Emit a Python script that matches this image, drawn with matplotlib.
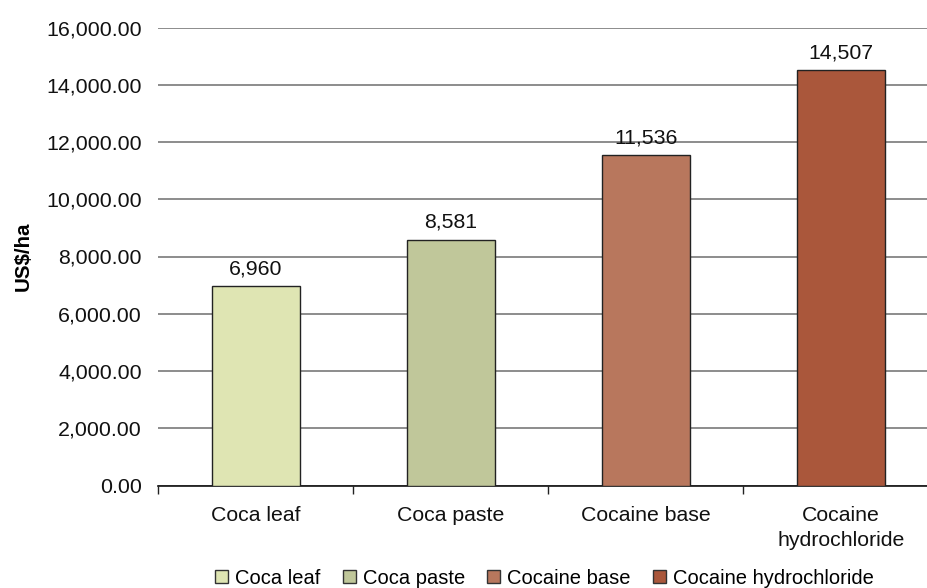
import matplotlib
matplotlib.use("Agg")
import matplotlib.pyplot as plt
from matplotlib.ticker import FuncFormatter, FixedLocator
from matplotlib.patches import Patch

categories = ["Coca leaf", "Coca paste", "Cocaine base", "Cocaine hydrochloride"]
tick_labels = ["Coca leaf", "Coca paste", "Cocaine base", "Cocaine\nhydrochloride"]
values = [6960, 8581, 11536, 14507]
colors = ["#DFE5B3", "#C0C79A", "#B8775D", "#AA573B"]
y_ticks = [0, 2000, 4000, 6000, 8000, 10000, 12000, 14000, 16000]

plt.rcParams['font.family'] = ['Liberation Sans', 'DejaVu Sans']

fig = plt.figure(figsize=(9.28, 5.88), dpi=100)
L = 158.5 / 928
R = 938.5 / 928
B = 1 - 485.5 / 588
T = 1 - 27.5 / 588
ax = fig.add_axes([L, B, R - L, T - B])

x = list(range(len(categories)))
bars = ax.bar(x, values, width=0.455, color=colors, edgecolor="#222222", linewidth=1.0, zorder=3)

for xi, v in zip(x, values):
    ax.text(xi, v + 280, f"{v:,}", ha="center", va="bottom", fontsize=15.3, color="#111111")

ax.set_xlim(-0.5, len(categories) - 0.5)
ax.set_ylim(0, 16000)
ax.set_yticks(y_ticks)
ax.yaxis.set_major_formatter(FuncFormatter(lambda v, p: f"{v:,.2f}"))
ax.tick_params(axis="y", length=0, pad=12, labelsize=15.4, labelcolor="#111111")
ax.grid(axis="y", color="#6e6e6e", linewidth=1.1, zorder=0)
ax.set_axisbelow(True)

ax.set_xticks(x)
ax.set_xticklabels(tick_labels, fontsize=15.3, linespacing=1.4, color="#111111")
ax.tick_params(axis="x", which="major", length=0, pad=15)
ax.xaxis.set_minor_locator(FixedLocator([i - 0.5 for i in range(len(categories) + 1)]))
ax.tick_params(axis="x", which="minor", length=6, width=1, color="#222222")

for s in ["top", "right", "left"]:
    ax.spines[s].set_visible(False)
ax.spines["bottom"].set_color("#111111")
ax.spines["bottom"].set_linewidth(1.2)

ax.set_ylabel("US$/ha", fontsize=14.8, fontweight="bold")
ax.yaxis.set_label_coords(-(158.5 - 23) / (938.5 - 158.5), 0.5)
ax.yaxis.label.set_va("center")

handles = [Patch(facecolor=c, edgecolor="#333333", linewidth=1.0) for c in colors]
fig.legend(handles, categories, loc="center", bbox_to_anchor=(544.5 / 928, 1 - 578 / 588),
           ncol=4, frameon=False, fontsize=14.5, handlelength=0.65, handleheight=0.65,
           handletextpad=0.35, columnspacing=1.1, borderaxespad=0, borderpad=0)

fig.savefig("out.png", dpi=100)
